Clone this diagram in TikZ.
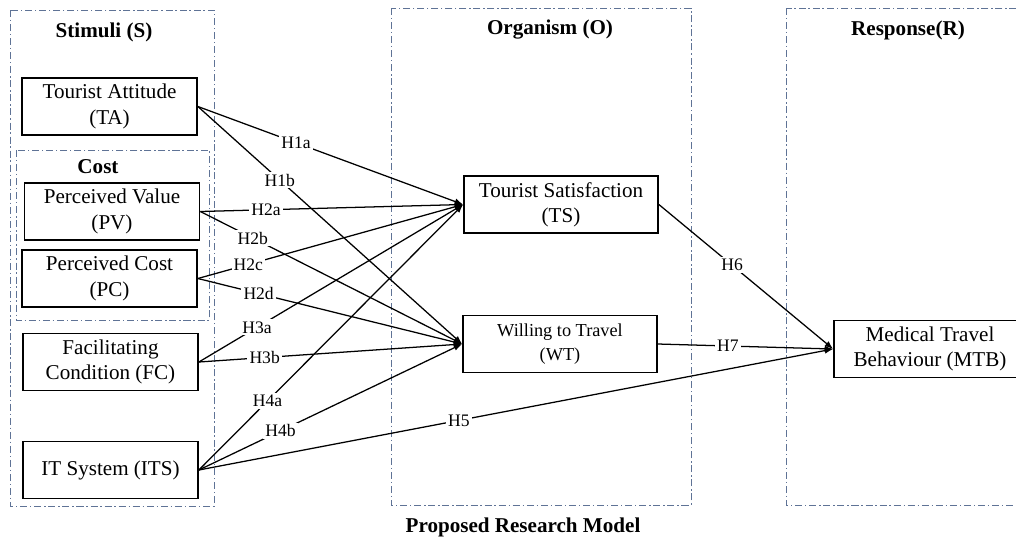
\documentclass[tikz,border=0pt]{standalone}
\usepackage{fontspec}
\setmainfont{Liberation Serif}
\usetikzlibrary{arrows.meta,positioning}
\definecolor{framecol}{RGB}{95,115,150}

\begin{document}
\begin{tikzpicture}[
  x=0.025cm, y=-0.025cm,
  box/.style={rectangle, draw, line width=1.2pt, minimum width=4.375cm, minimum height=1.425cm, align=center, font=\fontsize{15}{18}\selectfont, inner sep=2pt},
  group/.style={draw=framecol, line width=0.6pt, dash pattern=on 5pt off 2pt on 1pt off 2pt},
  head/.style={font=\bfseries\fontsize{15}{18}\selectfont},
  hyp/.style={fill=white, font=\fontsize{12.5}{14}\selectfont, inner sep=1.5pt},
  arrow/.style={-{Latex[length=6pt,width=4.5pt]}, line width=0.9pt}
]
\useasboundingbox (0,0) rectangle (1016,541);

% Frames
\draw[group] (10,10) rectangle (214,506);
\draw[group] (16,150) rectangle (209,320);
\draw[group] (391,8) rectangle (691,505);
\draw[group] (786,8) rectangle (1030,505);

% Headings
\node[head] (stim) at (104,32) {Stimuli (S)};
\node[head] (cost) at (98,167) {Cost};
\node[head] (org) at (550,30) {Organism (O)};
\node[head] (resp) at (908,30) {Response(R)};
\node[head] (title) at (523,527) {Proposed Research Model};

% Stimuli
\node[box] (ta) at (109.5,106.5) {Tourist Attitude\\(TA)};
\node[box] (pv) at (112,211.5) {Perceived Value\\(PV)};
\node[box] (pc) at (109.5,278.5) {Perceived Cost\\(PC)};
\node[box] (fc) at (110.5,362) {Facilitating\\Condition (FC)};
\node[box] (its) at (110.5,470) {IT System (ITS)};

% Organism
\node[box, minimum width=4.85cm] (ts) at (561,204.5) {Tourist Satisfaction\\(TS)};
\node[box, minimum width=4.85cm, font=\fontsize{13}{17}\selectfont] (wt) at (560,344) {Willing to Travel\\(WT)};

% Response
\node[box, minimum width=4.8cm] (mtb) at (930,349) {Medical Travel\\Behaviour (MTB)};

% Hypotheses
\draw[arrow] (ta.east) -- node[hyp, pos=0.37] {H1a} (ts.west);
\draw[arrow] (ta.east) -- node[hyp, pos=0.31] {H1b} (wt.west);
\draw[arrow] (pv.east) -- node[hyp, pos=0.25] {H2a} (ts.west);
\draw[arrow] (pv.east) -- node[hyp, pos=0.2] {H2b} (wt.west);
\draw[arrow] (pc.east) -- node[hyp, pos=0.19] {H2c} (ts.west);
\draw[arrow] (pc.east) -- node[hyp, pos=0.23] {H2d} (wt.west);
\draw[arrow] (fc.east) -- node[hyp, pos=0.22] {H3a} (ts.west);
\draw[arrow] (fc.east) -- node[hyp, pos=0.25] {H3b} (wt.west);
\draw[arrow] (its.east) -- node[hyp, pos=0.26] {H4a} (ts.west);
\draw[arrow] (its.east) -- node[hyp, pos=0.31] {H4b} (wt.west);
\draw[arrow] (its.east) -- node[hyp, pos=0.41] {H5} (mtb.west);
\draw[arrow] (ts.east) -- node[hyp, pos=0.42] {H6} (mtb.west);
\draw[arrow] (wt.east) -- node[hyp, pos=0.4] {H7} (mtb.west);

\end{tikzpicture}
\end{document}
